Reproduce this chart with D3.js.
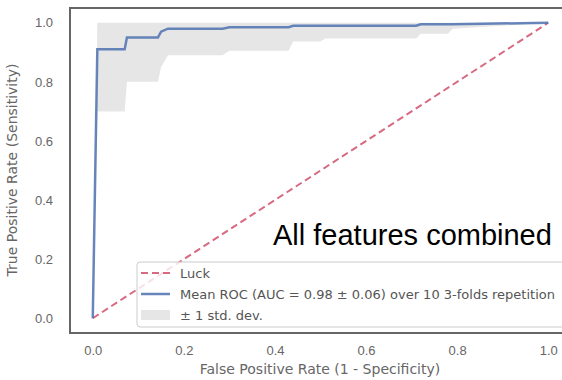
<!DOCTYPE html>
<html>
<head>
<meta charset="utf-8">
<script src="https://cdn.jsdelivr.net/npm/d3@7"></script>
<style>
  body { margin: 0; background: #fff; }
  svg { font-family: "DejaVu Sans", sans-serif; }
</style>
</head>
<body>
<div id="chart"></div>
<script>
// mean ROC over folds
var fpr   = [0, 0.01, 0.07, 0.075, 0.143, 0.15, 0.165, 0.285, 0.30, 0.43, 0.44, 0.50, 0.51, 0.71, 0.72, 0.78, 0.79, 1.0];
var tpr   = [0, 0.91, 0.91, 0.95,  0.95,  0.97, 0.98,  0.98,  0.985, 0.985, 0.99, 0.99, 0.99, 0.99, 0.995, 0.995, 0.995, 1.0];
var lower = [0, 0.70, 0.70, 0.80,  0.80,  0.85, 0.89,  0.89,  0.905, 0.905, 0.937, 0.937, 0.947, 0.947, 0.963, 0.963, 0.98, 1.0];
var upper = [0, 1.0,  1.0,  1.0,   1.0,   1.0,  1.0,   1.0,   1.0,   1.0,   1.0,   1.0,   1.0,   1.0,   1.0,   1.0,   1.0,  1.0];
var luck = [[0, 0], [1, 1]];
var ticks = [0, 0.2, 0.4, 0.6, 0.8, 1.0];
var legendLabels = ["Luck", "Mean ROC (AUC = 0.98 \u00b1 0.06) over 10 3-folds repetition", "\u00b1 1 std. dev."];
var caption = "All features combined";

var width = 562, height = 380;
var svg = d3.select("#chart").append("svg")
    .attr("width", width)
    .attr("height", height);

var x = d3.scaleLinear().domain([-0.05, 1.05]).range([70, 571]);
var y = d3.scaleLinear().domain([-0.05, 1.05]).range([333, 8]);

var pts = fpr.map(function(f, i) { return { f: f, t: tpr[i], lo: lower[i], hi: upper[i] }; });

// std band
svg.append("path")
    .datum(pts)
    .attr("fill", "#808080")
    .attr("fill-opacity", 0.2)
    .attr("d", d3.area()
        .x(function(d) { return x(d.f); })
        .y0(function(d) { return y(d.lo); })
        .y1(function(d) { return y(Math.min(1, d.hi)); }));

// luck diagonal
svg.append("path")
    .datum(luck)
    .attr("fill", "none")
    .attr("stroke", "#d0506a")
    .attr("stroke-opacity", 0.85)
    .attr("stroke-width", 2)
    .attr("stroke-dasharray", "7,4")
    .attr("d", d3.line()
        .x(function(d) { return x(d[0]); })
        .y(function(d) { return y(d[1]); }));

// mean roc
svg.append("path")
    .datum(pts)
    .attr("fill", "none")
    .attr("stroke", "#4c72b0")
    .attr("stroke-width", 2.5)
    .attr("stroke-opacity", 0.85)
    .attr("d", d3.line()
        .x(function(d) { return x(d.f); })
        .y(function(d) { return y(d.t); }));

// frame
svg.append("rect")
    .attr("x", 70).attr("y", 8)
    .attr("width", 501).attr("height", 325)
    .attr("fill", "none")
    .attr("stroke", "#666")
    .attr("stroke-width", 2);

// axes (labels only, no tick marks)
svg.append("g")
    .attr("transform", "translate(0,333)")
    .call(d3.axisBottom(x).tickValues(ticks).tickFormat(d3.format(".1f")).tickSize(0).tickPadding(13))
    .call(function(g) { g.select(".domain").remove(); })
    .selectAll("text")
    .style("font-size", "13px")
    .attr("fill", "#666");

svg.append("g")
    .attr("transform", "translate(70,0)")
    .call(d3.axisLeft(y).tickValues(ticks).tickFormat(d3.format(".1f")).tickSize(0).tickPadding(17))
    .call(function(g) { g.select(".domain").remove(); })
    .selectAll("text")
    .style("font-size", "13px")
    .attr("fill", "#666");

svg.append("text")
    .attr("x", 320)
    .attr("y", 374)
    .attr("text-anchor", "middle")
    .style("font-size", "14px")
    .attr("fill", "#666")
    .text("False Positive Rate (1 - Specificity)");

svg.append("text")
    .attr("transform", "translate(17,170) rotate(-90)")
    .attr("text-anchor", "middle")
    .style("font-size", "14px")
    .attr("fill", "#666")
    .text("True Positive Rate (Sensitivity)");

// legend
var lg = svg.append("g").attr("transform", "translate(137,262)");
lg.append("rect")
    .attr("width", 440).attr("height", 65)
    .attr("rx", 3)
    .attr("fill", "#fff").attr("fill-opacity", 0.8)
    .attr("stroke", "#ccc");
var rowY = [11, 32, 53];
lg.append("line")
    .attr("x1", 4).attr("x2", 33).attr("y1", rowY[0]).attr("y2", rowY[0])
    .attr("stroke", "#d0506a").attr("stroke-opacity", 0.85)
    .attr("stroke-width", 2).attr("stroke-dasharray", "7,4");
lg.append("line")
    .attr("x1", 4).attr("x2", 33).attr("y1", rowY[1]).attr("y2", rowY[1])
    .attr("stroke", "#4c72b0").attr("stroke-opacity", 0.85)
    .attr("stroke-width", 2.5);
lg.append("rect")
    .attr("x", 4).attr("y", rowY[2] - 5).attr("width", 29).attr("height", 10)
    .attr("fill", "#808080").attr("fill-opacity", 0.2);
lg.selectAll(".lbl")
    .data(legendLabels)
    .enter().append("text")
    .attr("x", 43)
    .attr("y", function(d, i) { return rowY[i] + 5; })
    .style("font-size", "13px")
    .attr("fill", "#555")
    .text(function(d) { return d; });

svg.append("text")
    .attr("x", 273)
    .attr("y", 245)
    .style("font-family", "'Liberation Sans', Arial, sans-serif")
    .style("font-size", "29px")
    .attr("fill", "#000")
    .text(caption);
</script>
</body>
</html>
